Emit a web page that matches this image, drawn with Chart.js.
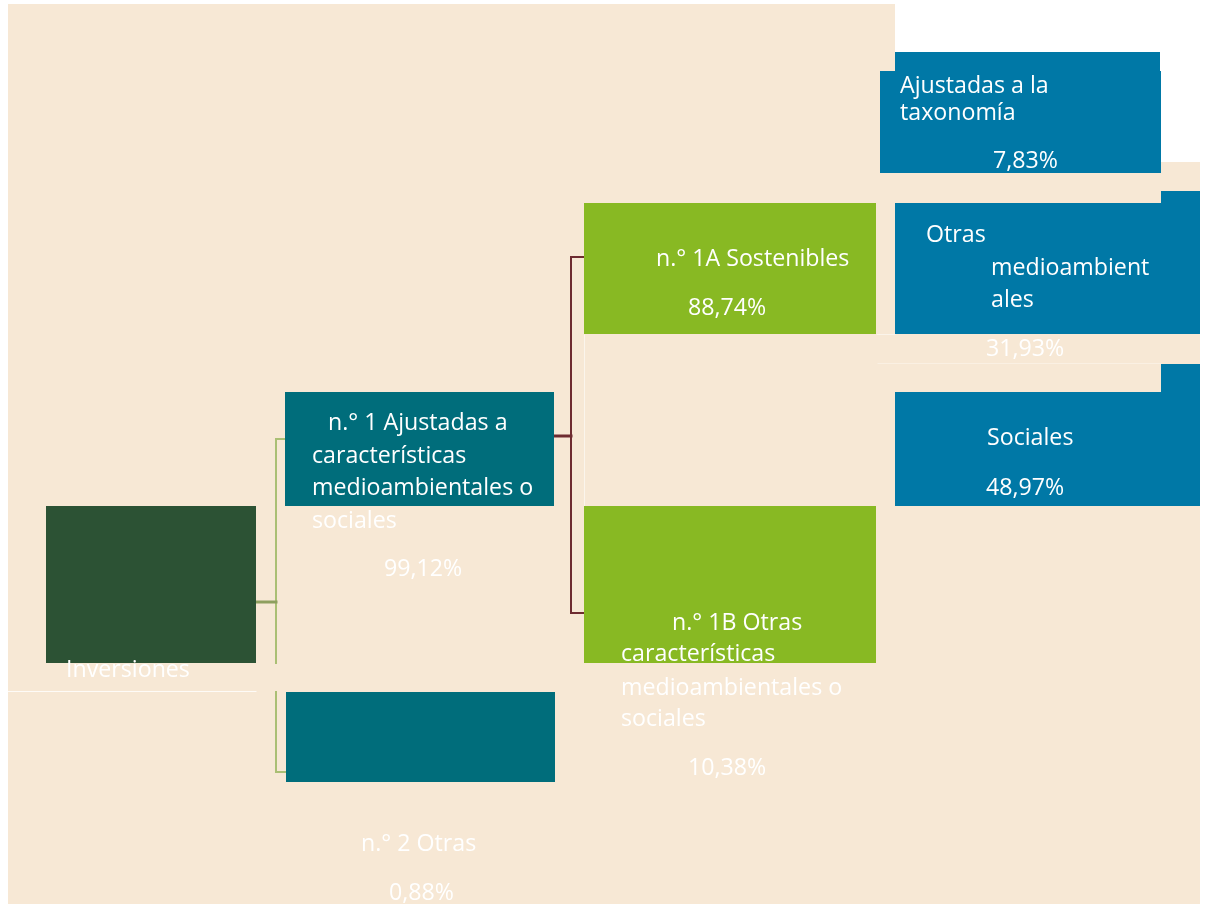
<!DOCTYPE html>
<html>
<head>
<meta charset="utf-8">
<script src="https://cdn.jsdelivr.net/npm/chart.js@4.4.1/dist/chart.umd.min.js"></script>
<style>
html,body{margin:0;padding:0;background:#ffffff;}
canvas{display:block;}
</style>
</head>
<body>
<canvas id="c" width="1211" height="904"></canvas>
<script>
// ---- data ----
const categories = [
  'Inversiones',
  'n.° 1 Ajustadas a características medioambientales o sociales',
  'n.° 2 Otras',
  'n.° 1A Sostenibles',
  'n.° 1B Otras características medioambientales o sociales',
  'Ajustadas a la taxonomía',
  'Otras medioambientales',
  'Sociales'
];
const shares = [null, 99.12, 0.88, 88.74, 10.38, 7.83, 31.93, 48.97];
const parents = [null, 0, 0, 1, 1, 3, 3, 3];

// ---- layout (diagram coordinates, 1 unit = 1 px of the reference) ----
const C_BEIGE = '#F7E8D5', C_DARK = '#2C5234', C_TEAL = '#006D7B', C_GREEN = '#88B923', C_BLUE = '#0078A6';
const boxRects = [
  [[46,506,256,663]],
  [[285,392,554,506]],
  [[286,692,555,782]],
  [[584,203,876,334]],
  [[584,506,876,663]],
  [[895,52,1160,71],[880,71,1161,173]],
  [[1161,191,1200,203],[895,203,1200,334]],
  [[1161,364,1200,392],[895,392,1200,506]]
];
const boxColors = [C_DARK, C_TEAL, C_TEAL, C_GREEN, C_GREEN, C_BLUE, C_BLUE, C_BLUE];
// text lines: [text, x, centerY]; '%' marks the percentage line
const textLines = [
  [['Inversiones', 66, 669]],
  [['n.° 1 Ajustadas a', 328, 422],['características', 312, 455],['medioambientales o', 312, 487],['sociales', 312, 520],['%', 384, 568]],
  [['n.° 2 Otras', 361, 843],['%', 389, 892]],
  [['n.° 1A Sostenibles', 656, 258],['%', 688, 307]],
  [['n.° 1B Otras', 672, 622],['características', 621, 653],['medioambientales o', 621, 687],['sociales', 621, 718],['%', 688, 767]],
  [['Ajustadas a la', 900, 85],['taxonomía', 900, 112],['%', 993, 160]],
  [['Otras', 926, 234],['medioambient', 991, 267],['ales', 991, 299],['%', 986, 348]],
  [['Sociales', 987, 437],['%', 986, 487]]
];
const bgRects = [[8,4,895,904],[895,162,1200,904]];
// faint white seams: [x0,y0,x1,y1,alpha]
const whiteLines = [[7,691,256,691,0.8],[584,334,584,506,0.55],[876,334,895,334,0.5],[877,363,1161,363,0.35]];
// connectors: [x0,y0,x1,y1,width,color]
const C_GL = '#AABF74', C_GM = '#8E9F5F', C_RL = '#6E2B30';
const connectors = [
  [276,439,276,663,2,C_GL],[276,692,276,772,2,C_GL],
  [276,439,287,439,2,C_GL],[276,772,287,772,2,C_GL],[256,602,276,602,3,C_GM],
  [571,257,571,613,2,C_RL],[571,257,584,257,2,C_RL],[571,613,584,613,2,C_RL],[554,436,571,436,3,C_RL]
];

function fmt(v){ return v.toFixed(2).replace('.', ',') + '%'; }

const diagram = {
  id: 'diagram',
  beforeDatasetsDraw(chart){
    const ctx = chart.ctx, sx = chart.scales.x, sy = chart.scales.y;
    const X = v => sx.getPixelForValue(v), Y = v => sy.getPixelForValue(v);
    const rect = (r, col) => { ctx.fillStyle = col; ctx.fillRect(X(r[0]), Y(r[1]), X(r[2]) - X(r[0]), Y(r[3]) - Y(r[1])); };
    ctx.save();
    bgRects.forEach(r => rect(r, C_BEIGE));
    ctx.lineWidth = 1;
    whiteLines.forEach(l => {
      ctx.strokeStyle = 'rgba(255,255,255,' + l[4] + ')';
      ctx.beginPath(); ctx.moveTo(X(l[0])+0.5, Y(l[1])+0.5); ctx.lineTo(X(l[2])+0.5, Y(l[3])+0.5); ctx.stroke();
    });
    connectors.forEach(c => {
      ctx.strokeStyle = c[5]; ctx.lineWidth = c[4]; ctx.lineCap = 'square';
      ctx.beginPath(); ctx.moveTo(X(c[0]), Y(c[1])); ctx.lineTo(X(c[2]), Y(c[3])); ctx.stroke();
    });
    categories.forEach((name, i) => boxRects[i].forEach(r => rect(r, boxColors[i])));
    ctx.fillStyle = '#FFFFFF';
    ctx.font = '23.2px "Open Sans", sans-serif';
    ctx.textAlign = 'left'; ctx.textBaseline = 'middle';
    categories.forEach((name, i) => {
      textLines[i].forEach(t => {
        const s = t[0] === '%' ? fmt(shares[i]) : t[0];
        ctx.fillText(s, X(t[1]), Y(t[2]) + 1);
      });
    });
    ctx.restore();
  }
};

new Chart(document.getElementById('c'), {
  type: 'scatter',
  data: { labels: categories, datasets: [{ data: [], pointRadius: 0 }] },
  options: {
    responsive: false, animation: false, devicePixelRatio: 1,
    layout: { padding: 0 },
    plugins: { legend: { display: false }, tooltip: { enabled: false } },
    scales: {
      x: { type: 'linear', min: 0, max: 1211, display: false },
      y: { type: 'linear', min: 0, max: 904, reverse: true, display: false }
    }
  },
  plugins: [diagram]
});
</script>
</body>
</html>
